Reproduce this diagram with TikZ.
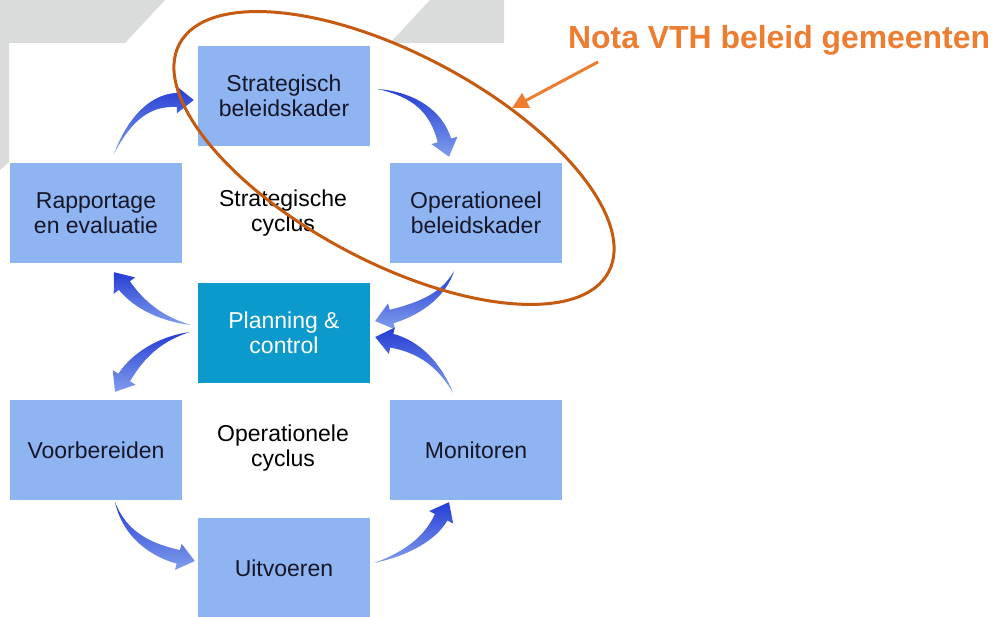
\documentclass[tikz,border=0pt]{standalone}
\usepackage{fontspec}
\setmainfont{Liberation Sans}
\usepackage{tikz}
\usetikzlibrary{calc,shapes.geometric,arrows.meta}

\definecolor{boxblue}{RGB}{142,180,242}
\definecolor{pcblue}{RGB}{12,154,204}
\definecolor{bggrey}{RGB}{217,220,218}
\definecolor{arrowdark}{RGB}{36,60,212}
\definecolor{arrowlight}{RGB}{128,158,236}
\definecolor{ringorange}{RGB}{197,90,17}
\definecolor{notaorange}{RGB}{237,125,49}
\definecolor{boxtext}{RGB}{22,22,40}

\tikzset{
  stepbox/.style={fill=boxblue, minimum width=172pt, minimum height=100pt, inner sep=0pt,
    align=center, text=boxtext, font=\fontsize{23}{25}\selectfont},
  pcbox/.style={stepbox, fill=pcblue, text=white},
  cyclelabel/.style={align=center, text=black, font=\fontsize{23}{25}\selectfont},
}

% tapered blue arrow: tail, bend, tip
\newcommand{\cyclearrow}[3]{%
  \coordinate (aht) at (#1);
  \coordinate (ahc) at (#2);
  \coordinate (ahh) at (#3);
  \coordinate (ahb) at ($(ahh)!17pt!(ahc)$);
  \coordinate (ahp) at ($(aht)!0.667!(ahc)$);
  \coordinate (ahq) at ($(ahb)!0.667!(ahc)$);
  \shade[top color=arrowdark, bottom color=arrowlight]
    (aht) .. controls ($(ahp)!2.5pt!-90:(ahc)$) and ($(ahq)!6pt!-90:(ahb)$) .. ($(ahb)!7pt!90:(ahc)$)
    -- ($(ahb)!13.5pt!90:(ahc)$) -- (ahh) -- ($(ahb)!13.5pt!-90:(ahc)$)
    -- ($(ahb)!7pt!-90:(ahc)$) .. controls ($(ahq)!6pt!90:(ahb)$) and ($(ahp)!2.5pt!90:(ahc)$) .. (aht) -- cycle;
}

\begin{document}
\begin{tikzpicture}[x=1pt,y=1pt]
    % page
    \fill[white] (0,0) rectangle (995,616);
    \useasboundingbox (0,0) rectangle (995,616);

    % grey background corners
    \fill[bggrey] (0,616) -- (165,616) -- (125,573) -- (9,573) -- (9,454) -- (0,446) -- cycle;
    \fill[bggrey] (430,616) -- (504,616) -- (504,573) -- (390,573) -- cycle;

    % draw boxes
    \foreach \name/\x/\y/\txt in {strat/284/520/{Strategisch\\beleidskader},
        rap/96/403/{Rapportage\\en evaluatie}, oper/476/403/{Operationeel\\beleidskader},
        voor/96/166/{Voorbereiden}, moni/476/166/{Monitoren}, uitv/284/48/{Uitvoeren}}
    \node[stepbox] (\name) at (\x,\y) {\txt};
    \node[pcbox] (plan) at (284,283) {Planning \&\\control};

    % cycle names
    \node[cyclelabel] (strcycle) at (283,403) {Strategische\\cyclus};
    \node[cyclelabel] (opcycle) at (283,168) {Operationele\\cyclus};

    % draw arrows
    \cyclearrow{$(rap.north)+(18,9)$}{$(rap.north)+(42,63)$}{$(strat.west)+(-4,-4)$}
    \cyclearrow{$(strat.east)+(7,7)$}{$(strat.east)+(62,-1)$}{$(oper.north)+(-27,6)$}
    \cyclearrow{$(oper.south)+(-22,-8)$}{$(oper.south)+(-36,-40)$}{$(plan.east)+(5,12)$}
    \cyclearrow{$(moni.north)+(-23,7)$}{$(moni.north)+(-44,50)$}{$(plan.east)+(5,-4)$}
    \cyclearrow{$(plan.west)+(-7,8)$}{$(plan.west)+(-50,17)$}{$(rap.south)+(18,-9)$}
    \cyclearrow{$(plan.west)+(-8,1)$}{$(plan.west)+(-51,-9)$}{$(voor.north)+(19,8)$}
    \cyclearrow{$(voor.south)+(19,-2)$}{$(voor.south)+(32,-44)$}{$(uitv.west)+(-3,7)$}
    \cyclearrow{$(uitv.east)+(4,5)$}{$(uitv.east)+(55,20)$}{$(moni.south)+(-27,-2)$}

    % orange ring and note
    \node[draw=ringorange, line width=3pt, ellipse, rotate=-28, inner sep=0pt,
        minimum width=486pt, minimum height=208pt] (focus) at (394,458) {};
    \node[anchor=base west, inner sep=0pt, text=notaorange,
        font=\fontsize{31.9}{36}\selectfont\bfseries] (nota) at (568,567) {Nota VTH beleid gemeenten};
    \draw[notaorange, line width=3pt, -{Triangle[length=16pt,width=16pt]}]
        ([xshift=30pt,yshift=-6pt]nota.south west) -- (focus.51);
\end{tikzpicture}
\end{document}
